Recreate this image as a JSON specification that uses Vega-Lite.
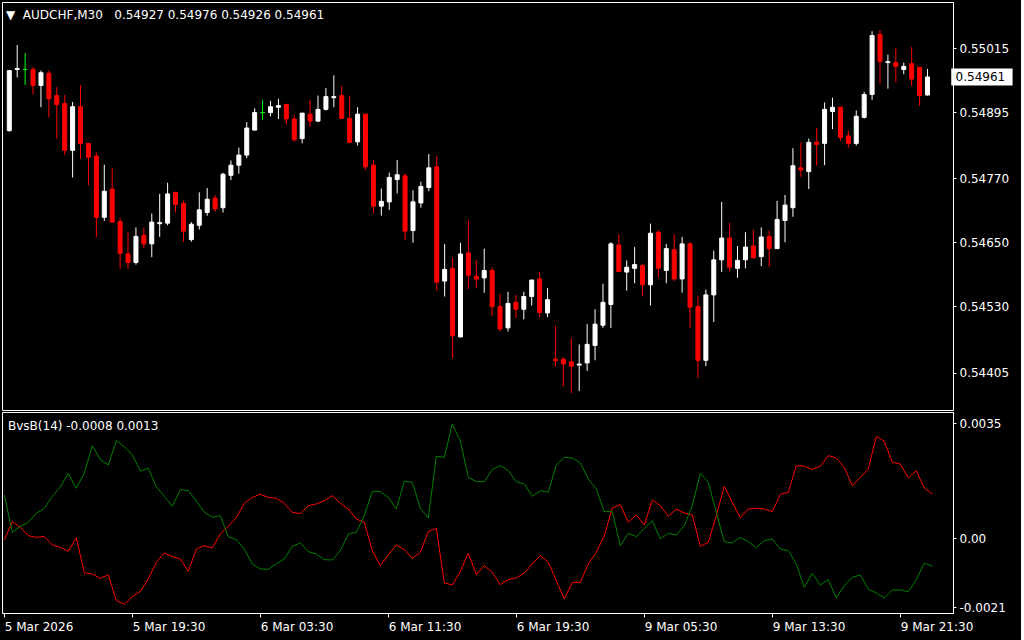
{
  "$schema": "https://vega.github.io/schema/vega-lite/v6.json",
  "background": "#000000",
  "padding": {"left": 1, "top": 1, "right": 7, "bottom": 14},
  "spacing": 2,
  "bounds": "flush",
  "config": {
    "view": {"stroke": "#ffffff", "strokeWidth": 1},
    "font": "DejaVu Sans",
    "axis": {"labelColor": "#ffffff", "labelFontSize": 12, "labelFont": "DejaVu Sans", "domainColor": "#ffffff", "tickColor": "#ffffff", "grid": false, "title": null}
  },
  "datasets": {
    "candles": [
      {"i":0,"o":0.54860,"h":0.54973,"l":0.54858,"c":0.54973},
      {"i":1,"o":0.54975,"h":0.55021,"l":0.54960,"c":0.54977},
      {"i":2,"o":0.54975,"h":0.55006,"l":0.54946,"c":0.54975},
      {"i":3,"o":0.54975,"h":0.54980,"l":0.54928,"c":0.54945},
      {"i":4,"o":0.54945,"h":0.54973,"l":0.54904,"c":0.54969},
      {"i":5,"o":0.54968,"h":0.54973,"l":0.54885,"c":0.54920},
      {"i":6,"o":0.54926,"h":0.54942,"l":0.54845,"c":0.54909},
      {"i":7,"o":0.54911,"h":0.54927,"l":0.54814,"c":0.54823},
      {"i":8,"o":0.54823,"h":0.54914,"l":0.54772,"c":0.54905},
      {"i":9,"o":0.54905,"h":0.54946,"l":0.54807,"c":0.54836},
      {"i":10,"o":0.54836,"h":0.54836,"l":0.54757,"c":0.54810},
      {"i":11,"o":0.54812,"h":0.54819,"l":0.54660,"c":0.54697},
      {"i":12,"o":0.54697,"h":0.54796,"l":0.54690,"c":0.54746},
      {"i":13,"o":0.54750,"h":0.54789,"l":0.54688,"c":0.54688},
      {"i":14,"o":0.54689,"h":0.54696,"l":0.54600,"c":0.54629},
      {"i":15,"o":0.54628,"h":0.54669,"l":0.54600,"c":0.54612},
      {"i":16,"o":0.54612,"h":0.54678,"l":0.54608,"c":0.54661},
      {"i":17,"o":0.54663,"h":0.54678,"l":0.54639,"c":0.54647},
      {"i":18,"o":0.54647,"h":0.54704,"l":0.54622,"c":0.54688},
      {"i":19,"o":0.54685,"h":0.54741,"l":0.54660,"c":0.54687},
      {"i":20,"o":0.54686,"h":0.54762,"l":0.54682,"c":0.54741},
      {"i":21,"o":0.54744,"h":0.54744,"l":0.54706,"c":0.54721},
      {"i":22,"o":0.54723,"h":0.54728,"l":0.54651,"c":0.54671},
      {"i":23,"o":0.54655,"h":0.54688,"l":0.54651,"c":0.54684},
      {"i":24,"o":0.54682,"h":0.54744,"l":0.54674,"c":0.54711},
      {"i":25,"o":0.54706,"h":0.54752,"l":0.54700,"c":0.54731},
      {"i":26,"o":0.54733,"h":0.54739,"l":0.54707,"c":0.54713},
      {"i":27,"o":0.54715,"h":0.54781,"l":0.54706,"c":0.54778},
      {"i":28,"o":0.54776,"h":0.54804,"l":0.54767,"c":0.54795},
      {"i":29,"o":0.54795,"h":0.54828,"l":0.54779,"c":0.54814},
      {"i":30,"o":0.54814,"h":0.54876,"l":0.54808,"c":0.54865},
      {"i":31,"o":0.54861,"h":0.54902,"l":0.54861,"c":0.54894},
      {"i":32,"o":0.54894,"h":0.54918,"l":0.54880,"c":0.54894},
      {"i":33,"o":0.54894,"h":0.54916,"l":0.54887,"c":0.54905},
      {"i":34,"o":0.54904,"h":0.54920,"l":0.54882,"c":0.54907},
      {"i":35,"o":0.54909,"h":0.54911,"l":0.54872,"c":0.54882},
      {"i":36,"o":0.54882,"h":0.54889,"l":0.54839,"c":0.54843},
      {"i":37,"o":0.54845,"h":0.54893,"l":0.54836,"c":0.54893},
      {"i":38,"o":0.54891,"h":0.54918,"l":0.54867,"c":0.54878},
      {"i":39,"o":0.54878,"h":0.54926,"l":0.54876,"c":0.54900},
      {"i":40,"o":0.54900,"h":0.54940,"l":0.54898,"c":0.54924},
      {"i":41,"o":0.54922,"h":0.54964,"l":0.54904,"c":0.54924},
      {"i":42,"o":0.54926,"h":0.54944,"l":0.54882,"c":0.54883},
      {"i":43,"o":0.54883,"h":0.54926,"l":0.54836,"c":0.54838},
      {"i":44,"o":0.54839,"h":0.54904,"l":0.54832,"c":0.54891},
      {"i":45,"o":0.54891,"h":0.54891,"l":0.54786,"c":0.54792},
      {"i":46,"o":0.54795,"h":0.54805,"l":0.54705,"c":0.54718},
      {"i":47,"o":0.54718,"h":0.54751,"l":0.54700,"c":0.54727},
      {"i":48,"o":0.54726,"h":0.54781,"l":0.54711,"c":0.54772},
      {"i":49,"o":0.54768,"h":0.54805,"l":0.54742,"c":0.54777},
      {"i":50,"o":0.54775,"h":0.54779,"l":0.54654,"c":0.54671},
      {"i":51,"o":0.54672,"h":0.54748,"l":0.54649,"c":0.54726},
      {"i":52,"o":0.54724,"h":0.54764,"l":0.54715,"c":0.54755},
      {"i":53,"o":0.54753,"h":0.54816,"l":0.54746,"c":0.54790},
      {"i":54,"o":0.54792,"h":0.54812,"l":0.54559,"c":0.54575},
      {"i":55,"o":0.54577,"h":0.54647,"l":0.54548,"c":0.54599},
      {"i":56,"o":0.54601,"h":0.54621,"l":0.54432,"c":0.54474},
      {"i":57,"o":0.54472,"h":0.54649,"l":0.54471,"c":0.54628},
      {"i":58,"o":0.54630,"h":0.54691,"l":0.54562,"c":0.54588},
      {"i":59,"o":0.54586,"h":0.54616,"l":0.54564,"c":0.54581},
      {"i":60,"o":0.54583,"h":0.54638,"l":0.54555,"c":0.54597},
      {"i":61,"o":0.54597,"h":0.54603,"l":0.54511,"c":0.54529},
      {"i":62,"o":0.54529,"h":0.54553,"l":0.54482,"c":0.54487},
      {"i":63,"o":0.54489,"h":0.54557,"l":0.54482,"c":0.54535},
      {"i":64,"o":0.54537,"h":0.54551,"l":0.54507,"c":0.54524},
      {"i":65,"o":0.54524,"h":0.54557,"l":0.54505,"c":0.54548},
      {"i":66,"o":0.54548,"h":0.54579,"l":0.54531,"c":0.54579},
      {"i":67,"o":0.54581,"h":0.54594,"l":0.54509,"c":0.54518},
      {"i":68,"o":0.54517,"h":0.54564,"l":0.54509,"c":0.54542},
      {"i":69,"o":0.54430,"h":0.54493,"l":0.54416,"c":0.54427},
      {"i":70,"o":0.54430,"h":0.54434,"l":0.54379,"c":0.54421},
      {"i":71,"o":0.54425,"h":0.54469,"l":0.54366,"c":0.54417},
      {"i":72,"o":0.54419,"h":0.54458,"l":0.54370,"c":0.54421},
      {"i":73,"o":0.54423,"h":0.54496,"l":0.54408,"c":0.54458},
      {"i":74,"o":0.54456,"h":0.54524,"l":0.54428,"c":0.54496},
      {"i":75,"o":0.54494,"h":0.54572,"l":0.54489,"c":0.54537},
      {"i":76,"o":0.54533,"h":0.54650,"l":0.54489,"c":0.54647},
      {"i":77,"o":0.54645,"h":0.54665,"l":0.54594,"c":0.54595},
      {"i":78,"o":0.54594,"h":0.54616,"l":0.54559,"c":0.54603},
      {"i":79,"o":0.54601,"h":0.54641,"l":0.54573,"c":0.54608},
      {"i":80,"o":0.54606,"h":0.54610,"l":0.54548,"c":0.54570},
      {"i":81,"o":0.54570,"h":0.54685,"l":0.54531,"c":0.54667},
      {"i":82,"o":0.54669,"h":0.54672,"l":0.54584,"c":0.54601},
      {"i":83,"o":0.54597,"h":0.54647,"l":0.54573,"c":0.54638},
      {"i":84,"o":0.54636,"h":0.54665,"l":0.54577,"c":0.54581},
      {"i":85,"o":0.54581,"h":0.54660,"l":0.54555,"c":0.54647},
      {"i":86,"o":0.54647,"h":0.54650,"l":0.54489,"c":0.54528},
      {"i":87,"o":0.54529,"h":0.54550,"l":0.54395,"c":0.54428},
      {"i":88,"o":0.54428,"h":0.54561,"l":0.54417,"c":0.54551},
      {"i":89,"o":0.54551,"h":0.54634,"l":0.54500,"c":0.54617},
      {"i":90,"o":0.54617,"h":0.54726,"l":0.54594,"c":0.54658},
      {"i":91,"o":0.54658,"h":0.54687,"l":0.54595,"c":0.54603},
      {"i":92,"o":0.54601,"h":0.54643,"l":0.54583,"c":0.54616},
      {"i":93,"o":0.54617,"h":0.54669,"l":0.54601,"c":0.54641},
      {"i":94,"o":0.54643,"h":0.54674,"l":0.54619,"c":0.54621},
      {"i":95,"o":0.54623,"h":0.54678,"l":0.54605,"c":0.54660},
      {"i":96,"o":0.54661,"h":0.54672,"l":0.54603,"c":0.54638},
      {"i":97,"o":0.54638,"h":0.54728,"l":0.54638,"c":0.54693},
      {"i":98,"o":0.54691,"h":0.54739,"l":0.54650,"c":0.54720},
      {"i":99,"o":0.54715,"h":0.54827,"l":0.54698,"c":0.54794},
      {"i":100,"o":0.54790,"h":0.54838,"l":0.54773,"c":0.54786},
      {"i":101,"o":0.54783,"h":0.54845,"l":0.54750,"c":0.54838},
      {"i":102,"o":0.54838,"h":0.54865,"l":0.54794,"c":0.54834},
      {"i":103,"o":0.54836,"h":0.54913,"l":0.54795,"c":0.54900},
      {"i":104,"o":0.54896,"h":0.54922,"l":0.54863,"c":0.54904},
      {"i":105,"o":0.54904,"h":0.54905,"l":0.54841,"c":0.54847},
      {"i":106,"o":0.54850,"h":0.54860,"l":0.54828,"c":0.54836},
      {"i":107,"o":0.54836,"h":0.54898,"l":0.54832,"c":0.54887},
      {"i":108,"o":0.54885,"h":0.54933,"l":0.54883,"c":0.54928},
      {"i":109,"o":0.54928,"h":0.55047,"l":0.54918,"c":0.55039},
      {"i":110,"o":0.55041,"h":0.55049,"l":0.54948,"c":0.54990},
      {"i":111,"o":0.54988,"h":0.55003,"l":0.54939,"c":0.54990},
      {"i":112,"o":0.54988,"h":0.55016,"l":0.54951,"c":0.54981},
      {"i":113,"o":0.54975,"h":0.54988,"l":0.54966,"c":0.54981},
      {"i":114,"o":0.54986,"h":0.55017,"l":0.54944,"c":0.54957},
      {"i":115,"o":0.54979,"h":0.54980,"l":0.54907,"c":0.54926},
      {"i":116,"o":0.54927,"h":0.54976,"l":0.54926,"c":0.54961}
    ],
    "ind": [
      {"i":0,"g":0.001319,"r":-0.000051},
      {"i":1,"g":0.000183,"r":0.000507},
      {"i":2,"g":0.000365,"r":0.000335},
      {"i":3,"g":0.000487,"r":0.000081},
      {"i":4,"g":0.000761,"r":0.00003},
      {"i":5,"g":0.000913,"r":0.000061},
      {"i":6,"g":0.001278,"r":-0.000203},
      {"i":7,"g":0.001562,"r":-0.000274},
      {"i":8,"g":0.001978,"r":-0.000396},
      {"i":9,"g":0.001522,"r":0.00002},
      {"i":10,"g":0.001988,"r":-0.001055},
      {"i":11,"g":0.00282,"r":-0.001086},
      {"i":12,"g":0.002394,"r":-0.001217},
      {"i":13,"g":0.002232,"r":-0.001116},
      {"i":14,"g":0.002972,"r":-0.001897},
      {"i":15,"g":0.00279,"r":-0.002009},
      {"i":16,"g":0.002536,"r":-0.001775},
      {"i":17,"g":0.002049,"r":-0.001613},
      {"i":18,"g":0.00213,"r":-0.001238},
      {"i":19,"g":0.001572,"r":-0.00073},
      {"i":20,"g":0.001278,"r":-0.000446},
      {"i":21,"g":0.000974,"r":-0.000558},
      {"i":22,"g":0.001481,"r":-0.000629},
      {"i":23,"g":0.001451,"r":-0.001004},
      {"i":24,"g":0.001136,"r":-0.000325},
      {"i":25,"g":0.000791,"r":-0.000223},
      {"i":26,"g":0.000639,"r":-0.000294},
      {"i":27,"g":0.00069,"r":0.000132},
      {"i":28,"g":0.000051,"r":0.000365},
      {"i":29,"g":-0.000041,"r":0.000629},
      {"i":30,"g":-0.000325,"r":0.001065},
      {"i":31,"g":-0.000781,"r":0.001248},
      {"i":32,"g":-0.000933,"r":0.001339},
      {"i":33,"g":-0.000943,"r":0.001248},
      {"i":34,"g":-0.000781,"r":0.001217},
      {"i":35,"g":-0.000629,"r":0.001065},
      {"i":36,"g":-0.000243,"r":0.000791},
      {"i":37,"g":-0.000142,"r":0.000751},
      {"i":38,"g":-0.000406,"r":0.000994},
      {"i":39,"g":-0.000477,"r":0.001045},
      {"i":40,"g":-0.000649,"r":0.001146},
      {"i":41,"g":-0.000659,"r":0.001299},
      {"i":42,"g":-0.000375,"r":0.001065},
      {"i":43,"g":0.000132,"r":0.000893},
      {"i":44,"g":0.000183,"r":0.000588},
      {"i":45,"g":0.00069,"r":0.000487},
      {"i":46,"g":0.00143,"r":-0.000375},
      {"i":47,"g":0.00142,"r":-0.000832},
      {"i":48,"g":0.001248,"r":-0.000507},
      {"i":49,"g":0.000893,"r":-0.000203},
      {"i":50,"g":0.001735,"r":-0.000345},
      {"i":51,"g":0.001704,"r":-0.000609},
      {"i":52,"g":0.000913,"r":-0.000426},
      {"i":53,"g":0.000619,"r":0.000203},
      {"i":54,"g":0.002496,"r":0.000304},
      {"i":55,"g":0.002465,"r":-0.001359},
      {"i":56,"g":0.00348,"r":-0.00142},
      {"i":57,"g":0.002972,"r":-0.001015},
      {"i":58,"g":0.001857,"r":-0.000446},
      {"i":59,"g":0.001725,"r":-0.001106},
      {"i":60,"g":0.001725,"r":-0.000832},
      {"i":61,"g":0.00209,"r":-0.001035},
      {"i":62,"g":0.002212,"r":-0.00141},
      {"i":63,"g":0.002059,"r":-0.001258},
      {"i":64,"g":0.001725,"r":-0.001207},
      {"i":65,"g":0.001654,"r":-0.001055},
      {"i":66,"g":0.001278,"r":-0.000781},
      {"i":67,"g":0.001451,"r":-0.000528},
      {"i":68,"g":0.0014,"r":-0.00073},
      {"i":69,"g":0.002232,"r":-0.001288},
      {"i":70,"g":0.002465,"r":-0.001846},
      {"i":71,"g":0.002445,"r":-0.001339},
      {"i":72,"g":0.002293,"r":-0.001339},
      {"i":73,"g":0.001806,"r":-0.000781},
      {"i":74,"g":0.001501,"r":-0.000426},
      {"i":75,"g":0.000812,"r":0.000081},
      {"i":76,"g":0.000812,"r":0.000923},
      {"i":77,"g":-0.000223,"r":0.001025},
      {"i":78,"g":0.000152,"r":0.000487},
      {"i":79,"g":0.000051,"r":0.00071},
      {"i":80,"g":0.000304,"r":0.000406},
      {"i":81,"g":0.000538,"r":0.001167},
      {"i":82,"g":-0.00002,"r":0.000994},
      {"i":83,"g":0.000152,"r":0.00067},
      {"i":84,"g":0.000101,"r":0.000893},
      {"i":85,"g":0.000386,"r":0.000771},
      {"i":86,"g":0.000994,"r":0.00071},
      {"i":87,"g":0.001978,"r":-0.000243},
      {"i":88,"g":0.001704,"r":-0.000122},
      {"i":89,"g":0.000791,"r":0.00069},
      {"i":90,"g":-0.000101,"r":0.001583},
      {"i":91,"g":-0.000142,"r":0.001096},
      {"i":92,"g":0.00003,"r":0.000629},
      {"i":93,"g":-0.000101,"r":0.000893},
      {"i":94,"g":-0.000284,"r":0.000913},
      {"i":95,"g":-0.000071,"r":0.000893},
      {"i":96,"g":-0.00002,"r":0.000812},
      {"i":97,"g":-0.000325,"r":0.001339},
      {"i":98,"g":-0.000375,"r":0.0014},
      {"i":99,"g":-0.000781,"r":0.002212},
      {"i":100,"g":-0.001491,"r":0.002191},
      {"i":101,"g":-0.001065,"r":0.0021},
      {"i":102,"g":-0.00142,"r":0.002191},
      {"i":103,"g":-0.001258,"r":0.002516},
      {"i":104,"g":-0.001816,"r":0.002445},
      {"i":105,"g":-0.001441,"r":0.002161},
      {"i":106,"g":-0.001187,"r":0.001603},
      {"i":107,"g":-0.001116,"r":0.001857},
      {"i":108,"g":-0.001542,"r":0.00211},
      {"i":109,"g":-0.001664,"r":0.003104},
      {"i":110,"g":-0.001816,"r":0.002952},
      {"i":111,"g":-0.001572,"r":0.002313},
      {"i":112,"g":-0.001572,"r":0.002262},
      {"i":113,"g":-0.001623,"r":0.001836},
      {"i":114,"g":-0.001258,"r":0.002059},
      {"i":115,"g":-0.000751,"r":0.001532},
      {"i":116,"g":-0.000852,"r":0.00135}
    ],
    "last": [{"close": 0.54961}]
  },
  "vconcat": [
    {
      "width": 951,
      "height": 408,
      "title": {"text": "▼\u00a0\u00a0AUDCHF,M30\u00a0\u00a0\u00a00.54927 0.54976 0.54926 0.54961", "anchor": "start", "frame": "group", "orient": "top", "offset": -29, "baseline": "alphabetic", "color": "#ffffff", "fontSize": 12, "fontWeight": "normal", "font": "DejaVu Sans", "dx": 4},
      "layer": [
        {
          "data": {"name": "candles"},
          "mark": {"type": "rule", "clip": true, "strokeWidth": 1},
          "encoding": {
            "x": {"field": "i", "type": "quantitative", "scale": {"domain": [-0.29, 118.59], "nice": false, "zero": false}, "axis": null},
            "y": {"field": "l", "type": "quantitative", "scale": {"domain": [0.543439, 0.550926], "nice": false, "zero": false},
                  "axis": {"orient": "right", "values": [0.55015, 0.54895, 0.5477, 0.5465, 0.5453, 0.54405], "format": ".5f", "tickSize": 3, "labelPadding": 3, "labelOverlap": false, "labelFlush": false}},
            "y2": {"field": "h"},
            "color": {"condition": [{"test": "datum.c > datum.o", "value": "#ffffff"}, {"test": "datum.c < datum.o", "value": "#ff0000"}], "value": "#00ff00"}
          }
        },
        {
          "data": {"name": "candles"},
          "mark": {"type": "bar", "width": 4, "strokeWidth": 1, "clip": true},
          "encoding": {
            "x": {"field": "i", "type": "quantitative", "axis": null},
            "y": {"field": "o", "type": "quantitative"},
            "y2": {"field": "c"},
            "fill": {"condition": [{"test": "datum.c > datum.o", "value": "#ffffff"}, {"test": "datum.c < datum.o", "value": "#ff0000"}], "value": "#00ff00"},
            "stroke": {"condition": [{"test": "datum.c > datum.o", "value": "#ffffff"}, {"test": "datum.c < datum.o", "value": "#ff0000"}], "value": "#00ff00"}
          }
        },
        {
          "data": {"name": "last"},
          "mark": {"type": "bar", "orient": "horizontal", "height": 17, "color": "#ffffff", "clip": false},
          "encoding": {
            "x": {"datum": 119.0, "type": "quantitative", "axis": null},
            "x2": {"datum": 126.75},
            "y": {"field": "close", "type": "quantitative"}
          }
        },
        {
          "data": {"name": "last"},
          "mark": {"type": "text", "align": "left", "baseline": "middle", "color": "#000000", "fontSize": 12, "font": "DejaVu Sans", "clip": false},
          "encoding": {
            "x": {"datum": 119.55, "type": "quantitative", "axis": null},
            "y": {"field": "close", "type": "quantitative"},
            "text": {"field": "close", "type": "quantitative", "format": ".5f"}
          }
        }
      ]
    },
    {
      "width": 951,
      "height": 201,
      "title": {"text": "BvsB(14) -0.0008 0.0013", "anchor": "start", "frame": "group", "orient": "top", "offset": -30, "baseline": "alphabetic", "color": "#ffffff", "fontSize": 12, "fontWeight": "normal", "font": "DejaVu Sans", "dx": 6},
      "data": {"name": "ind"},
      "layer": [
        {
          "mark": {"type": "line", "color": "#ff0000", "strokeWidth": 1, "clip": true},
          "encoding": {
            "x": {"field": "i", "type": "quantitative", "scale": {"domain": [-0.29, 118.59], "nice": false, "zero": false},
                  "axis": {"orient": "bottom", "values": [0, 16, 32, 48, 64, 80, 96, 112], "labelExpr": "['5 Mar 2026','5 Mar 19:30','6 Mar 03:30','6 Mar 11:30','6 Mar 19:30','9 Mar 05:30','9 Mar 13:30','9 Mar 21:30'][round(datum.value/16)]", "labelAlign": "left", "tickSize": 4, "labelPadding": 4, "labelFlush": false, "labelOverlap": false, "labelBound": false}},
            "y": {"field": "r", "type": "quantitative", "scale": {"domain": [-0.002273, 0.003845], "nice": false, "zero": false},
                  "axis": {"orient": "right", "values": [0.0035, 0, -0.0021], "labelExpr": "datum.value == 0 ? '0.00' : (datum.value < 0 ? '-' + format(-datum.value, '.4f') : format(datum.value, '.4f'))", "tickSize": 3, "labelPadding": 3, "labelOverlap": false, "labelFlush": false}}
          }
        },
        {
          "mark": {"type": "line", "color": "#008000", "strokeWidth": 1, "clip": true},
          "encoding": {
            "x": {"field": "i", "type": "quantitative"},
            "y": {"field": "g", "type": "quantitative"}
          }
        }
      ]
    }
  ]
}
